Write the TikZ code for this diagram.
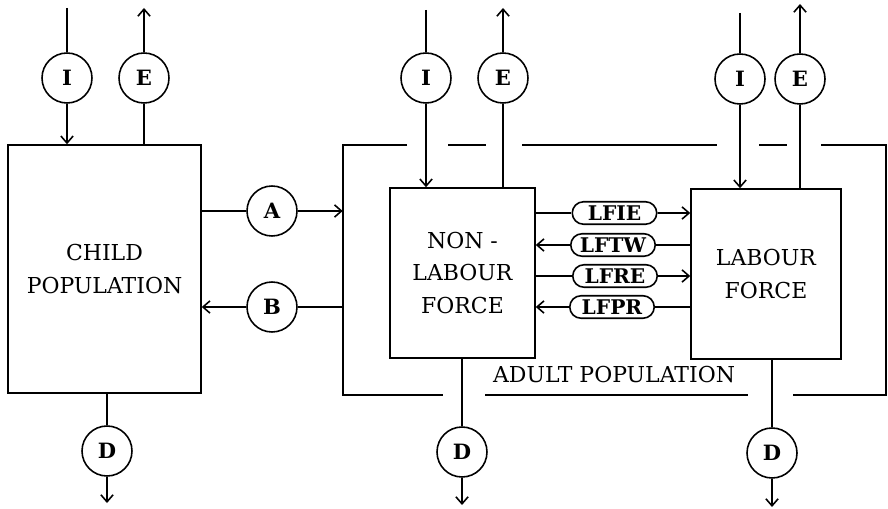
\documentclass[tikz,border=0pt]{standalone}
\usepackage{fontspec}
\setmainfont{DejaVu Serif}
\usetikzlibrary{arrows.meta, shapes.misc, positioning, calc}

\begin{document}
\begin{tikzpicture}[
    x=0.02cm, y=-0.02cm,
    stock/.style={rectangle, draw, line width=0.9pt, align=center, font=\fontsize{12.5}{18.7}\selectfont},
    flow/.style={circle, draw, line width=0.9pt, minimum size=1cm, inner sep=0pt, font=\bfseries\fontsize{12}{13}\selectfont},
    rate/.style={rounded rectangle, draw, line width=0.9pt, minimum width=1.76cm, minimum height=0.45cm, inner sep=1pt, font=\bfseries\fontsize{11.5}{12}\selectfont},
    arrow/.style={-{Straight Barb[length=4pt,width=7pt]}, line width=0.9pt},
    wire/.style={line width=0.9pt}
]
\useasboundingbox (0,0) rectangle (888,509);

% Bestaende
\node[stock, minimum width=3.86cm, minimum height=4.96cm] (child) at (104.5,269) {CHILD\\POPULATION};
\node[stock, minimum width=2.9cm, minimum height=3.4cm] (nl) at (462.5,273) {NON -\\LABOUR\\FORCE};
\node[stock, minimum width=3.0cm, minimum height=3.4cm] (lf) at (766,274) {LABOUR\\FORCE};
\node[minimum width=10.86cm, minimum height=5cm, inner sep=0pt] (adult) at (614.5,270) {};
\node[font=\fontsize{12.5}{14}\selectfont] (adultlbl) at (614,375) {ADULT POPULATION};

% Zu- und Abgaenge
\node[flow] (ci) at (67,78) {I};
\node[flow] (ce) at (144,78) {E};
\node[flow] (cd) at (107,451) {D};
\node[flow] (ni) at (426,78) {I};
\node[flow] (ne) at (503,78) {E};
\node[flow] (nd) at (462,452) {D};
\node[flow] (li) at (740,79) {I};
\node[flow] (le) at (800,79) {E};
\node[flow] (ld) at (772,453) {D};
\node[flow] (a) at (272,211) {A};
\node[flow] (b) at (272,307) {B};

% Uebergaenge
\node[rate] (lfie) at (614.5,213) {LFIE};
\node[rate] (lftw) at (613,245) {LFTW};
\node[rate] (lfre) at (615,276) {LFRE};
\node[rate] (lfpr) at (612,307) {LFPR};

% freie Enden
\coordinate (ciin) at (67,8);
\coordinate (ceout) at (144,8);
\coordinate (cdout) at (107,503);
\coordinate (niin) at (426,10);
\coordinate (neout) at (503,8);
\coordinate (ndout) at (462,505);
\coordinate (liin) at (740,13);
\coordinate (leout) at (800,4);
\coordinate (ldout) at (772,507);

% Verbindungen
\draw[wire] (ciin) -- (ci);
\draw[arrow] (ci) -- (ci |- child.north);
\draw[wire] (ce |- child.north) -- (ce);
\draw[arrow] (ce) -- (ceout);
\draw[wire] (cd |- child.south) -- (cd);
\draw[arrow] (cd) -- (cdout);

\draw[wire] (niin) -- (ni);
\draw[arrow] (ni) -- (ni |- nl.north);
\draw[wire] (ne |- nl.north) -- (ne);
\draw[arrow] (ne) -- (neout);
\draw[wire] (nd |- nl.south) -- (nd);
\draw[arrow] (nd) -- (ndout);

\draw[wire] (liin) -- (li);
\draw[arrow] (li) -- (li |- lf.north);
\draw[wire] (le |- lf.north) -- (le);
\draw[arrow] (le) -- (leout);
\draw[wire] (ld |- lf.south) -- (ld);
\draw[arrow] (ld) -- (ldout);

\draw[wire] (a -| child.east) -- (a);
\draw[arrow] (a) -- (a -| adult.west);
\draw[wire] (b -| adult.west) -- (b);
\draw[arrow] (b) -- (b -| child.east);

\draw[wire] (lfie -| nl.east) -- (lfie);
\draw[arrow] (lfie) -- (lfie -| lf.west);
\draw[wire] (lftw -| lf.west) -- (lftw);
\draw[arrow] (lftw) -- (lftw -| nl.east);
\draw[wire] (lfre -| nl.east) -- (lfre);
\draw[arrow] (lfre) -- (lfre -| lf.west);
\draw[wire] (lfpr -| lf.west) -- (lfpr);
\draw[arrow] (lfpr) -- (lfpr -| nl.east);

% Rahmen Erwachsene mit Luecken
\draw[wire] (407,145) -| (343,395) -- (443,395);
\draw[wire] (448,145) -- (486,145);
\draw[wire] (522,145) -- (717,145);
\draw[wire] (759,145) -- (787,145);
\draw[wire] (821,145) -| (886,395) -- (793,395);
\draw[wire] (485,395) -- (748,395);

\end{tikzpicture}
\end{document}
